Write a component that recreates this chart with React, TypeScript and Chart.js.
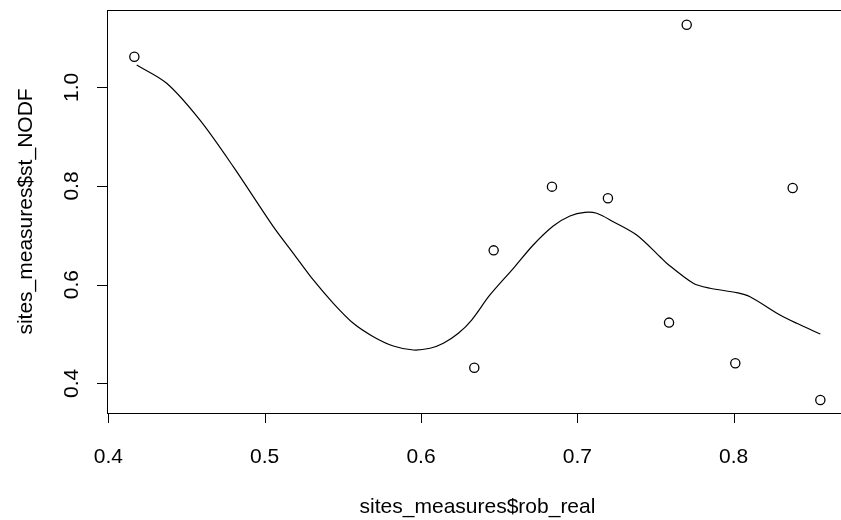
import React, { useEffect, useRef } from "react";
import { Chart, registerables } from "chart.js";

Chart.register(...registerables);

// Observed points
const robReal = [0.4166, 0.6341, 0.6465, 0.6838, 0.7196, 0.7587, 0.77, 0.8011, 0.8378, 0.8555];
const stNODF = [1.062, 0.4316, 0.6695, 0.7986, 0.775, 0.523, 1.1269, 0.4405, 0.796, 0.366];

// Smoothed (loess) curve
const smoothX = [
  0.4181, 0.4373, 0.4586, 0.4799, 0.5055, 0.5183, 0.5311, 0.5439, 0.5567,
  0.5695, 0.5823, 0.5951, 0.6058, 0.6143, 0.6239, 0.6324, 0.6441, 0.6591, 0.6718,
  0.6846, 0.6953, 0.7049, 0.7124, 0.723, 0.738, 0.7529, 0.7572, 0.7742, 0.7849,
  0.802, 0.8105, 0.8297, 0.8404, 0.8555,
];
const smoothY = [
  1.0452, 1.0081, 0.9333, 0.8391, 0.7175, 0.6635, 0.6094, 0.5622, 0.5216,
  0.4945, 0.4756, 0.4675, 0.471, 0.4811, 0.5014, 0.5283, 0.579, 0.6331, 0.6804,
  0.7189, 0.7392, 0.7466, 0.7446, 0.7276, 0.7006, 0.6566, 0.6433, 0.6027, 0.5926,
  0.5837, 0.5755, 0.5385, 0.5216, 0.4999,
];

const xTicks = [0.4, 0.5, 0.6, 0.7, 0.8];
const xTickLabels = ["0.4", "0.5", "0.6", "0.7", "0.8"];
const yTicks = [0.4, 0.6, 0.8, 1.0];
const yTickLabels = ["0.4", "0.6", "0.8", "1.0"];
const xTitle = "sites_measures$rob_real";
const yTitle = "sites_measures$st_NODF";

const FONT = '21px "Liberation Sans", Arial, Helvetica, sans-serif';

const rAxesPlugin = {
  id: "rAxes",
  afterDraw(chart: any) {
    const ctx = chart.ctx;
    const { left, right, top, bottom } = chart.chartArea;
    const xs = chart.scales.x;
    const ys = chart.scales.y;
    ctx.save();
    ctx.strokeStyle = "#000";
    ctx.fillStyle = "#000";
    ctx.lineWidth = 1;
    // box
    ctx.strokeRect(Math.round(left) + 0.5, Math.round(top) + 0.5, Math.round(right - left), Math.round(bottom - top));
    ctx.font = FONT;
    // x ticks
    ctx.textAlign = "center";
    ctx.textBaseline = "alphabetic";
    xTicks.forEach((v, i) => {
      const px = Math.round(xs.getPixelForValue(v)) + 0.5;
      ctx.beginPath();
      ctx.moveTo(px, bottom);
      ctx.lineTo(px, bottom + 10);
      ctx.stroke();
      ctx.fillText(xTickLabels[i], xs.getPixelForValue(v), bottom + 49.5);
    });
    // y ticks
    yTicks.forEach((v, i) => {
      const py = Math.round(ys.getPixelForValue(v)) + 0.5;
      ctx.beginPath();
      ctx.moveTo(left, py);
      ctx.lineTo(left - 10, py);
      ctx.stroke();
      ctx.save();
      ctx.translate(left - 29, ys.getPixelForValue(v));
      ctx.rotate(-Math.PI / 2);
      ctx.textAlign = "center";
      ctx.fillText(yTickLabels[i], 0, 0);
      ctx.restore();
    });
    // titles
    ctx.textAlign = "center";
    ctx.fillText(xTitle, (left + right) / 2, bottom + 100);
    ctx.save();
    ctx.translate(32, (top + bottom) / 2);
    ctx.rotate(-Math.PI / 2);
    ctx.fillText(yTitle, 0, 0);
    ctx.restore();
    ctx.restore();
  },
};

export default function App() {
  const ref = useRef<HTMLCanvasElement | null>(null);
  useEffect(() => {
    if (!ref.current) return;
    const pts = robReal.map((x, i) => ({ x, y: stNODF[i] }));
    const line = smoothX.map((x, i) => ({ x, y: smoothY[i] }));
    const chart = new Chart(ref.current, {
      type: "scatter",
      data: {
        datasets: [
          {
            type: "line",
            data: line,
            borderColor: "#000",
            borderWidth: 1.2,
            pointRadius: 0,
            tension: 0.3,
            fill: false,
          } as any,
          {
            type: "scatter",
            data: pts,
            pointRadius: 4.6,
            pointBorderWidth: 1.3,
            borderColor: "#000",
            backgroundColor: "rgba(0,0,0,0)",
            pointBackgroundColor: "rgba(0,0,0,0)",
            pointBorderColor: "#000",
            clip: false,
          } as any,
        ],
      },
      options: {
        responsive: false,
        animation: false,
        devicePixelRatio: 1,
        layout: { padding: { left: 107, top: 10, right: 12, bottom: 107 } },
        plugins: { legend: { display: false }, tooltip: { enabled: false } },
        events: [],
        scales: {
          x: { type: "linear", min: 0.3991, max: 0.8732, display: false },
          y: { type: "linear", min: 0.3398, max: 1.1567, display: false },
        },
      },
      plugins: [rAxesPlugin],
    });
    return () => chart.destroy();
  }, []);
  return (
    <div style={{ position: "absolute", left: 0, top: 0, width: 841, height: 520, overflow: "hidden", background: "#fff" }}>
      <canvas ref={ref} width={860} height={520} style={{ width: 860, height: 520, display: "block" }} />
    </div>
  );
}
